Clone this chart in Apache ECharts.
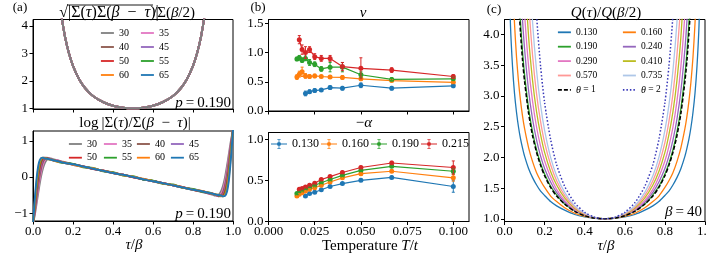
<!DOCTYPE html>
<html><head><meta charset="utf-8">
<script src="https://cdn.jsdelivr.net/npm/echarts@6/dist/echarts.min.js"></script>
<style>html,body{margin:0;padding:0;background:#fff}#c{width:706px;height:258px}</style>
</head><body><div id="c"></div>
<script>
// ---------- DATA ----------
// panel (a) top & panel (c): tau/beta grid
const tauGrid = [0.02,0.03,0.04,0.05,0.06,0.07,0.08,0.09,0.10,0.12,0.14,0.16,0.18,0.20,0.23,0.26,0.30,0.35,0.40,0.45,0.50,0.55,0.60,0.65,0.70,0.74,0.77,0.80,0.82,0.84,0.86,0.88,0.90,0.91,0.92,0.93,0.94,0.95,0.96,0.97,0.98];
// (a) top: sqrt|S(t)S(b-t)|/S(b/2), all beta collapse
const aTopRatio = [130,64,38.7,26.2,19.1,14.6,11.6,9.47,7.89,5.81,4.50,3.61,3.00,2.55,2.07,1.74,1.45,1.23,1.09,1.022,1.0,1.022,1.09,1.23,1.45,1.74,2.07,2.55,3.00,3.61,4.50,5.81,7.89,9.47,11.6,14.6,19.1,26.2,38.7,64,130];
const betaLabels = ['30','35','40','45','50','55','60','65'];
// (a) bottom: log|S(t)/S(b-t)|
const aBotTau = [0,0.01,0.02,0.03,0.04,0.05,0.06,0.07,0.08,0.09,0.10,0.12,0.15,0.20,0.25,0.30,0.35,0.40,0.45,0.50,0.55,0.60,0.65,0.70,0.75,0.80,0.85,0.88,0.90,0.91,0.92,0.93,0.94,0.95,0.96,0.97,0.98,0.99,1.0];
const logB30 = [-1.30,-1.00,-0.65,-0.30,0.02,0.25,0.40,0.48,0.51,0.51,0.49,0.46,0.42,0.35,0.29,0.23,0.17,0.12,0.06,0.00,-0.06,-0.12,-0.17,-0.23,-0.29,-0.35,-0.42,-0.46,-0.49,-0.51,-0.51,-0.48,-0.40,-0.25,-0.02,0.30,0.65,1.00,1.30];
const logB35 = [-1.30,-0.95,-0.55,-0.17,0.14,0.35,0.47,0.52,0.52,0.50,0.48,0.46,0.41,0.35,0.29,0.23,0.17,0.12,0.06,0.00,-0.06,-0.12,-0.17,-0.23,-0.29,-0.35,-0.41,-0.46,-0.48,-0.50,-0.52,-0.52,-0.47,-0.35,-0.14,0.17,0.55,0.95,1.30];
const logB40 = [-1.30,-0.90,-0.45,-0.05,0.25,0.43,0.51,0.53,0.51,0.49,0.47,0.45,0.41,0.35,0.29,0.23,0.17,0.11,0.06,0.00,-0.06,-0.11,-0.17,-0.23,-0.29,-0.35,-0.41,-0.45,-0.47,-0.49,-0.51,-0.53,-0.51,-0.43,-0.25,0.05,0.45,0.90,1.30];
const logB45 = [-1.30,-0.85,-0.35,0.05,0.33,0.48,0.53,0.52,0.50,0.49,0.47,0.44,0.40,0.34,0.29,0.23,0.17,0.12,0.06,0.00,-0.06,-0.12,-0.17,-0.23,-0.29,-0.34,-0.40,-0.44,-0.47,-0.49,-0.50,-0.52,-0.53,-0.48,-0.33,-0.05,0.35,0.85,1.30];
const logB50 = [-1.30,-0.80,-0.25,0.15,0.40,0.51,0.53,0.51,0.50,0.48,0.46,0.44,0.40,0.35,0.29,0.22,0.18,0.11,0.06,-0.01,-0.06,-0.11,-0.17,-0.23,-0.28,-0.35,-0.40,-0.44,-0.46,-0.48,-0.50,-0.51,-0.53,-0.51,-0.40,-0.15,0.25,0.80,1.30];
const logB55 = [-1.30,-0.72,-0.15,0.25,0.46,0.53,0.52,0.51,0.49,0.48,0.47,0.43,0.39,0.36,0.27,0.25,0.16,0.13,0.04,0.02,-0.07,-0.10,-0.19,-0.21,-0.30,-0.33,-0.41,-0.43,-0.47,-0.48,-0.49,-0.51,-0.52,-0.53,-0.46,-0.25,0.15,0.72,1.30];
const logB60 = [-1.30,-0.65,-0.05,0.33,0.50,0.53,0.52,0.50,0.49,0.48,0.46,0.43,0.41,0.34,0.28,0.24,0.17,0.12,0.05,0.01,-0.05,-0.12,-0.18,-0.22,-0.29,-0.35,-0.39,-0.44,-0.46,-0.48,-0.49,-0.50,-0.52,-0.53,-0.50,-0.33,0.05,0.65,1.30];
const logB65 = [-1.30,-0.55,0.05,0.40,0.52,0.53,0.51,0.50,0.49,0.48,0.46,0.44,0.40,0.35,0.29,0.23,0.17,0.11,0.06,0.00,-0.06,-0.12,-0.17,-0.23,-0.29,-0.35,-0.40,-0.44,-0.46,-0.48,-0.49,-0.50,-0.51,-0.53,-0.52,-0.40,-0.05,0.55,1.30];

// panel (b): temperatures T = 1/beta for beta = 65..10
const temps = [0.01538,0.01667,0.01818,0.02,0.02222,0.025,0.02857,0.03333,0.04,0.05,0.06667,0.1];
const pLabels = ['0.130','0.160','0.190','0.215'];
const nu130 = [null,null,null,0.30,0.33,0.35,0.36,0.40,0.39,0.44,0.39,0.43];
const nu160 = [0.58,0.63,0.67,0.60,0.59,0.60,0.59,0.58,0.575,0.55,0.52,0.49];
const nu190 = [0.89,0.91,0.87,0.90,0.83,0.80,0.72,0.75,0.75,0.62,0.54,0.55];
const nu215 = [null,1.22,1.05,1.00,1.05,0.93,0.90,0.90,0.76,0.73,0.70,0.59];
const nuErr130 = [null,null,null,0.04,0.03,0.03,0.02,0.03,0.03,0.04,0.03,0.03];
const nuErr160 = [0.04,0.05,0.08,0.04,0.03,0.03,0.02,0.02,0.03,0.03,0.02,0.02];
const nuErr190 = [0.03,0.04,0.04,0.04,0.05,0.04,0.04,0.08,0.08,0.05,0.03,0.03];
const nuErr215 = [null,0.07,0.08,0.10,0.05,0.05,0.05,0.05,0.07,0.18,0.04,0.03];
const al130 = [null,null,null,0.31,0.34,0.355,0.385,0.425,0.46,0.50,0.535,0.425];
const al160 = [0.31,0.33,0.35,0.37,0.39,0.41,0.44,0.48,0.53,0.58,0.61,0.53];
const al190 = [0.34,0.36,0.38,0.40,0.42,0.44,0.47,0.51,0.56,0.62,0.67,0.61];
const al215 = [null,0.39,0.40,0.42,0.44,0.465,0.51,0.545,0.595,0.655,0.71,0.655];
const alErr130 = [null,null,null,0.012,0.01,0.01,0.01,0.012,0.012,0.015,0.015,0.07];
const alErr160 = [0.012,0.01,0.01,0.01,0.01,0.01,0.01,0.012,0.012,0.015,0.015,0.04];
const alErr190 = [0.012,0.01,0.01,0.01,0.01,0.01,0.01,0.012,0.012,0.015,0.015,0.03];
const alErr215 = [null,0.012,0.01,0.01,0.01,0.01,0.012,0.012,0.015,0.015,0.02,0.08];

// panel (c): Q(tau)/Q(beta/2), beta = 40
const q130 = [5.26,4.13,3.48,3.04,2.73,2.49,2.30,2.15,2.02,1.82,1.67,1.55,1.45,1.38,1.28,1.21,1.14,1.07,1.03,1.007,1.0,1.007,1.03,1.07,1.14,1.21,1.28,1.38,1.45,1.55,1.67,1.82,2.02,2.15,2.30,2.49,2.73,3.04,3.48,4.13,5.26];
const q160 = [8.42,6.17,4.95,4.17,3.63,3.23,2.92,2.67,2.47,2.16,1.93,1.75,1.62,1.51,1.37,1.28,1.18,1.09,1.04,1.01,1.0,1.01,1.04,1.09,1.18,1.28,1.37,1.51,1.62,1.75,1.93,2.16,2.47,2.67,2.92,3.23,3.63,4.17,4.95,6.17,8.42];
const q190 = [17.3,11.4,8.49,6.76,5.61,4.80,4.19,3.72,3.35,2.80,2.41,2.12,1.90,1.73,1.53,1.39,1.24,1.13,1.05,1.013,1.0,1.013,1.05,1.13,1.24,1.39,1.53,1.73,1.90,2.12,2.41,2.80,3.35,3.72,4.19,4.80,5.61,6.76,8.49,11.4,17.3];
const q240 = [22.8,14.4,10.45,8.13,6.64,5.59,4.82,4.23,3.77,3.09,2.62,2.28,2.02,1.82,1.60,1.43,1.27,1.14,1.06,1.014,1.0,1.014,1.06,1.14,1.27,1.43,1.60,1.82,2.02,2.28,2.62,3.09,3.77,4.23,4.82,5.59,6.64,8.13,10.45,14.4,22.8];
const q290 = [31.8,19.2,13.4,10.2,8.12,6.71,5.69,4.93,4.34,3.49,2.91,2.49,2.18,1.94,1.68,1.48,1.30,1.15,1.065,1.016,1.0,1.016,1.065,1.15,1.30,1.48,1.68,1.94,2.18,2.49,2.91,3.49,4.34,4.93,5.69,6.71,8.12,10.2,13.4,19.2,31.8];
const q410 = [45.6,26.1,17.6,12.9,10.1,8.18,6.82,5.82,5.05,3.97,3.25,2.74,2.37,2.08,1.77,1.55,1.34,1.17,1.07,1.017,1.0,1.017,1.07,1.17,1.34,1.55,1.77,2.08,2.37,2.74,3.25,3.97,5.05,5.82,6.82,8.18,10.1,12.9,17.6,26.1,45.6];
const q570 = [67,36.3,23.5,16.8,12.8,10.1,8.28,6.97,5.95,4.57,3.66,3.03,2.58,2.24,1.88,1.62,1.38,1.19,1.08,1.019,1.0,1.019,1.08,1.19,1.38,1.62,1.88,2.24,2.58,3.03,3.66,4.57,5.95,6.97,8.28,10.1,12.8,16.8,23.5,36.3,67];
const q735 = [105,53,32.8,22.6,16.7,12.9,10.35,8.54,7.19,5.36,4.20,3.41,2.85,2.44,2.00,1.70,1.43,1.21,1.09,1.021,1.0,1.021,1.09,1.21,1.43,1.70,2.00,2.44,2.85,3.41,4.20,5.36,7.19,8.54,10.35,12.9,16.7,22.6,32.8,53,105];
const qTheta1 = [15.93,10.63,7.98,6.39,5.34,4.58,4.02,3.58,3.24,2.72,2.35,2.08,1.87,1.70,1.51,1.37,1.24,1.12,1.05,1.012,1.0,1.012,1.05,1.12,1.24,1.37,1.51,1.70,1.87,2.08,2.35,2.72,3.24,3.58,4.02,4.58,5.34,6.39,7.98,10.63,15.93];
const qTheta2 = [254,113,63.7,40.9,28.5,21.0,16.2,12.85,10.47,7.38,5.52,4.31,3.48,2.89,2.29,1.88,1.53,1.26,1.106,1.025,1.0,1.025,1.106,1.26,1.53,1.88,2.29,2.89,3.48,4.31,5.52,7.38,10.47,12.85,16.2,21.0,28.5,40.9,63.7,113,254];
const qLabels = ['0.130','0.160','0.190','0.240','0.290','0.410','0.570','0.735'];

// tick values
const ticksTau = [0,0.2,0.4,0.6,0.8,1.0];
const ticksATop = [1,2,3,4];
const ticksABot = [-1,0,1];
const ticksT = [0,0.025,0.05,0.075,0.1];
const ticksNu = [0,0.5,1.0,1.5];
const ticksAl = [0,0.5,1.0];
const ticksQ = [1.0,1.5,2.0,2.5,3.0,3.5,4.0];

// ---------- STYLE ----------
const FONT = '"Liberation Serif","DejaVu Serif",serif';
const C = {blue:'#1f77b4',orange:'#ff7f0e',green:'#2ca02c',red:'#d62728',purple:'#9467bd',brown:'#8c564b',pink:'#e377c2',gray:'#7f7f7f',olive:'#bcbd22',lblue:'#aec7e8',salmon:'#ff9896'};
const betaColors = {'30':C.gray,'35':C.pink,'40':C.brown,'45':C.purple,'50':C.red,'55':C.green,'60':C.orange,'65':C.blue};
const pColors = [C.blue,C.orange,C.green,C.red];
const qColors = [C.blue,C.orange,C.green,C.purple,C.pink,C.olive,C.salmon,C.lblue];

const grids = [
  {left:33, top:19.5, width:200, height:89.5},
  {left:33, top:131, width:200, height:90},
  {left:268.5, top:19.5, width:200.5, height:91.5},
  {left:268.5, top:132.5, width:200.5, height:89},
  {left:504.5, top:19.5, width:200.5, height:202}
].map(g => Object.assign({show:true, borderColor:'#000', borderWidth:1, containLabel:false, outerBoundsMode:'none'}, g));

const minus = v => (v < 0 ? '\u2212' + Math.abs(v) : String(v));
function axis(grid, min, max, ticks, showLabel, fmt, isY) {
  return {
    type:'value', gridIndex:grid, min:min, max:max,
    axisLine:{show:true, onZero:false, lineStyle:{color:'#000', width:1}},
    axisTick:{show:true, length:3.5, inside:false, lineStyle:{color:'#000', width:1}, customValues:ticks},
    axisLabel:{show:showLabel, customValues:ticks, formatter:fmt, color:'#000', fontFamily:FONT, fontSize:13, margin:isY?5:4},
    splitLine:{show:false}
  };
}
const xAxes = [
  axis(0, 0, 1, ticksTau, false, v=>v.toFixed(1)),
  axis(1, 0, 1, ticksTau, true, v=>v.toFixed(1)),
  axis(2, 0, 0.1085, ticksT, false, v=>v.toFixed(3)),
  axis(3, 0, 0.1085, ticksT, true, v=>v.toFixed(3)),
  axis(4, 0, 1, ticksTau, true, v=>v.toFixed(1))
];
const yAxes = [
  axis(0, 0.974, 4.24, ticksATop, true, v=>String(v), true),
  axis(1, -1.215, 1.27, ticksABot, true, minus, true),
  axis(2, 0, 1.565, ticksNu, true, v=>v.toFixed(1), true),
  axis(3, 0, 1.08, ticksAl, true, v=>v.toFixed(1), true),
  axis(4, 0.956, 4.244, ticksQ, true, v=>v.toFixed(1), true)
];

const series = [];
const zip = (xs, ys) => xs.map((x,i)=>[x, ys[i]]);

// (a) top: draw 65 first, 30 last
betaLabels.slice().reverse().forEach(b => {
  series.push({type:'line', name:'a'+b, xAxisIndex:0, yAxisIndex:0, data:zip(tauGrid, aTopRatio),
    symbol:'none', smooth:0.3, lineStyle:{color:betaColors[b], width:2}, itemStyle:{color:betaColors[b]}, z:2});
});
// (a) bottom
const logB = {'30':logB30,'35':logB35,'40':logB40,'45':logB45,'50':logB50,'55':logB55,'60':logB60,'65':logB65};
betaLabels.forEach(b => {
  series.push({type:'line', name:'b'+b, xAxisIndex:1, yAxisIndex:1, data:zip(aBotTau, logB[b]),
    symbol:'none', smooth:0.3, lineStyle:{color:betaColors[b], width:2}, itemStyle:{color:betaColors[b]}, z:2});
});

// (b) errorbar series
function errRender(color){
  return function(params, api){
    const x = api.value(0), y = api.value(1), e = api.value(2);
    const t = api.coord([x, y+e]), b = api.coord([x, y-e]);
    const cw = 1.5, st = {stroke:color, lineWidth:1};
    return {type:'group', children:[
      {type:'line', shape:{x1:t[0],y1:t[1],x2:b[0],y2:b[1]}, style:st},
      {type:'line', shape:{x1:t[0]-cw,y1:t[1],x2:t[0]+cw,y2:t[1]}, style:st},
      {type:'line', shape:{x1:b[0]-cw,y1:b[1],x2:b[0]+cw,y2:b[1]}, style:st}
    ]};
  };
}
function addErr(pi, xi, vals, errs, yIdx, prefix){
  const col = pColors[pi];
  const pts = [], ebs = [];
  temps.forEach((t,i)=>{ if (vals[i] != null) { pts.push([t, vals[i]]); ebs.push([t, vals[i], errs[i]]); } });
  series.push({type:'line', name:prefix + pLabels[pi], xAxisIndex:xi, yAxisIndex:yIdx, data:pts,
    symbol:'circle', symbolSize:5, showSymbol:true, lineStyle:{color:col, width:1.2}, itemStyle:{color:col}, z:3});
  series.push({type:'custom', name:'e'+prefix+pLabels[pi], xAxisIndex:xi, yAxisIndex:yIdx, data:ebs,
    encode:{x:0, y:1}, renderItem:errRender(col), z:4});
}
[[nu130,nuErr130],[nu160,nuErr160],[nu190,nuErr190],[nu215,nuErr215]].forEach((d,i)=>addErr(i, 2, d[0], d[1], 2, 'n'));
[[al130,alErr130],[al160,alErr160],[al190,alErr190],[al215,alErr215]].forEach((d,i)=>addErr(i, 3, d[0], d[1], 3, 'p'));

// (c)
const qData = [q130,q160,q190,q240,q290,q410,q570,q735];
qLabels.forEach((l,i)=>{
  series.push({type:'line', name:'c'+l, xAxisIndex:4, yAxisIndex:4, data:zip(tauGrid, qData[i]),
    symbol:'none', smooth:0.25, lineStyle:{color:qColors[i], width:1.3}, itemStyle:{color:qColors[i]}, z:2});
});
series.push({type:'line', name:'cth1', xAxisIndex:4, yAxisIndex:4, data:zip(tauGrid, qTheta1),
  symbol:'none', smooth:0.25, lineStyle:{color:'#000', width:1.5, type:[4,2]}, itemStyle:{color:'#000'}, z:3});
series.push({type:'line', name:'cth2', xAxisIndex:4, yAxisIndex:4, data:zip(tauGrid, qTheta2),
  symbol:'none', smooth:0.25, lineStyle:{color:'#3737b8', width:1.5, type:[1.5,2]}, itemStyle:{color:'#3737b8'}, z:3});

// ---------- LEGENDS ----------
const richI = {i:{fontStyle:'italic', fontFamily:FONT, fontSize:10, color:'#000'}};
function colLegend(names, left, top, gap, fs){
  return {orient:'vertical', left:left, top:top, padding:0, itemGap:gap, itemWidth:13, itemHeight:8,
    data:names, selectedMode:false, itemStyle:{opacity:0}, lineStyle:{width:1.8},
    formatter: n => n === 'cth1' ? '{i|\u03b8} = 1' : n === 'cth2' ? '{i|\u03b8} = 2' : n.slice(1),
    textStyle:{fontFamily:FONT, fontSize:fs, color:'#000', lineHeight:12, rich:richI}};
}
const ebIcon = 'path://M0 5.5H20V6.5H0Z M9.5 0H10.5V12H9.5Z M8 0H12V1H8Z M8 11H12V12H8Z M12.6 6A2.6 2.6 0 1 1 7.4 6A2.6 2.6 0 1 1 12.6 6Z';
const legends = [
  colLegend(['a30','a40','a50','a60'], 100, 27, 2, 10),
  colLegend(['a35','a45','a55','a65'], 140, 27, 2, 10),
  colLegend(['b30','b50'], 68, 138, 1.7, 10),
  colLegend(['b35','b55'], 103, 138, 1.7, 10),
  colLegend(['b40','b60'], 136, 138, 1.7, 10),
  colLegend(['b45','b65'], 170, 138, 1.7, 10),
  colLegend(['c0.130','c0.190','c0.290','c0.570','cth1'], 557, 26.3, 2.4, 9.5),
  colLegend(['c0.160','c0.240','c0.410','c0.735','cth2'], 622, 26.3, 2.4, 9.5),
  {orient:'horizontal', left:271, top:138, padding:0, itemGap:2, itemWidth:16, itemHeight:12, selectedMode:false,
   data:pLabels.map(l=>({name:'p'+l, icon:ebIcon})), formatter:n=>n.slice(1),
   textStyle:{fontFamily:FONT, fontSize:12, color:'#000'}}
];

// ---------- TEXT ----------
const rich = fs => ({i:{fontStyle:'italic', fontFamily:FONT, fontSize:fs, fill:'#000'}, r:{fontFamily:FONT, fontSize:fs, fill:'#000'}});
function txt(x, y, text, fs, align){
  return {type:'text', x:x, y:y, z:10, silent:true,
    style:{text:text, fontFamily:FONT, fontSize:fs, fill:'#000', align:align||'center', verticalAlign:'middle', rich:rich(fs)}};
}
const EN = '\u2002';
const graphics = [
  txt(20, 8, '(a)', 13), txt(258, 8, '(b)', 13), txt(494, 10, '(c)', 13),
  txt(68, 12.5, '\u221a', 16, 'right'),
  txt(68, 13, '|\u03a3({i|\u03c4})\u03a3({i|\u03b2}'+EN+'\u2212'+EN+'{i|\u03c4})|', 16, 'left'),
  txt(153, 13, '/\u03a3({i|\u03b2}/2)', 15, 'left'),
  {type:'line', silent:true, z:10, shape:{x1:67, y1:5, x2:153, y2:5}, style:{stroke:'#000', lineWidth:0.9}},
  txt(135, 123, 'log\u2009|\u03a3({i|\u03c4})/\u03a3({i|\u03b2}'+EN+'\u2212'+EN+'{i|\u03c4})|', 15),
  txt(363, 13, '{i|\u03bd}', 15),
  txt(364, 123, '\u2212{i|\u03b1}', 15),
  txt(606, 13, '{i|Q}({i|\u03c4})/{i|Q}({i|\u03b2}/2)', 15),
  txt(231, 103, '{i|p}\u2009=\u20090.190', 15, 'right'),
  txt(231, 214, '{i|p}\u2009=\u20090.190', 15, 'right'),
  txt(702, 212, '{i|\u03b2}\u2009=\u200940', 15, 'right'),
  txt(134, 245, '{i|\u03c4}/{i|\u03b2}', 15),
  txt(370, 246, 'Temperature {i|T}/{i|t}', 15),
  txt(606, 246, '{i|\u03c4}/{i|\u03b2}', 15)
];

const chart = echarts.init(document.getElementById('c'), null, {renderer:'canvas', width:706, height:258});
chart.setOption({
  animation:false, backgroundColor:'#fff',
  grid:grids, xAxis:xAxes, yAxis:yAxes, series:series, legend:legends, graphic:graphics
});
</script></body></html>
